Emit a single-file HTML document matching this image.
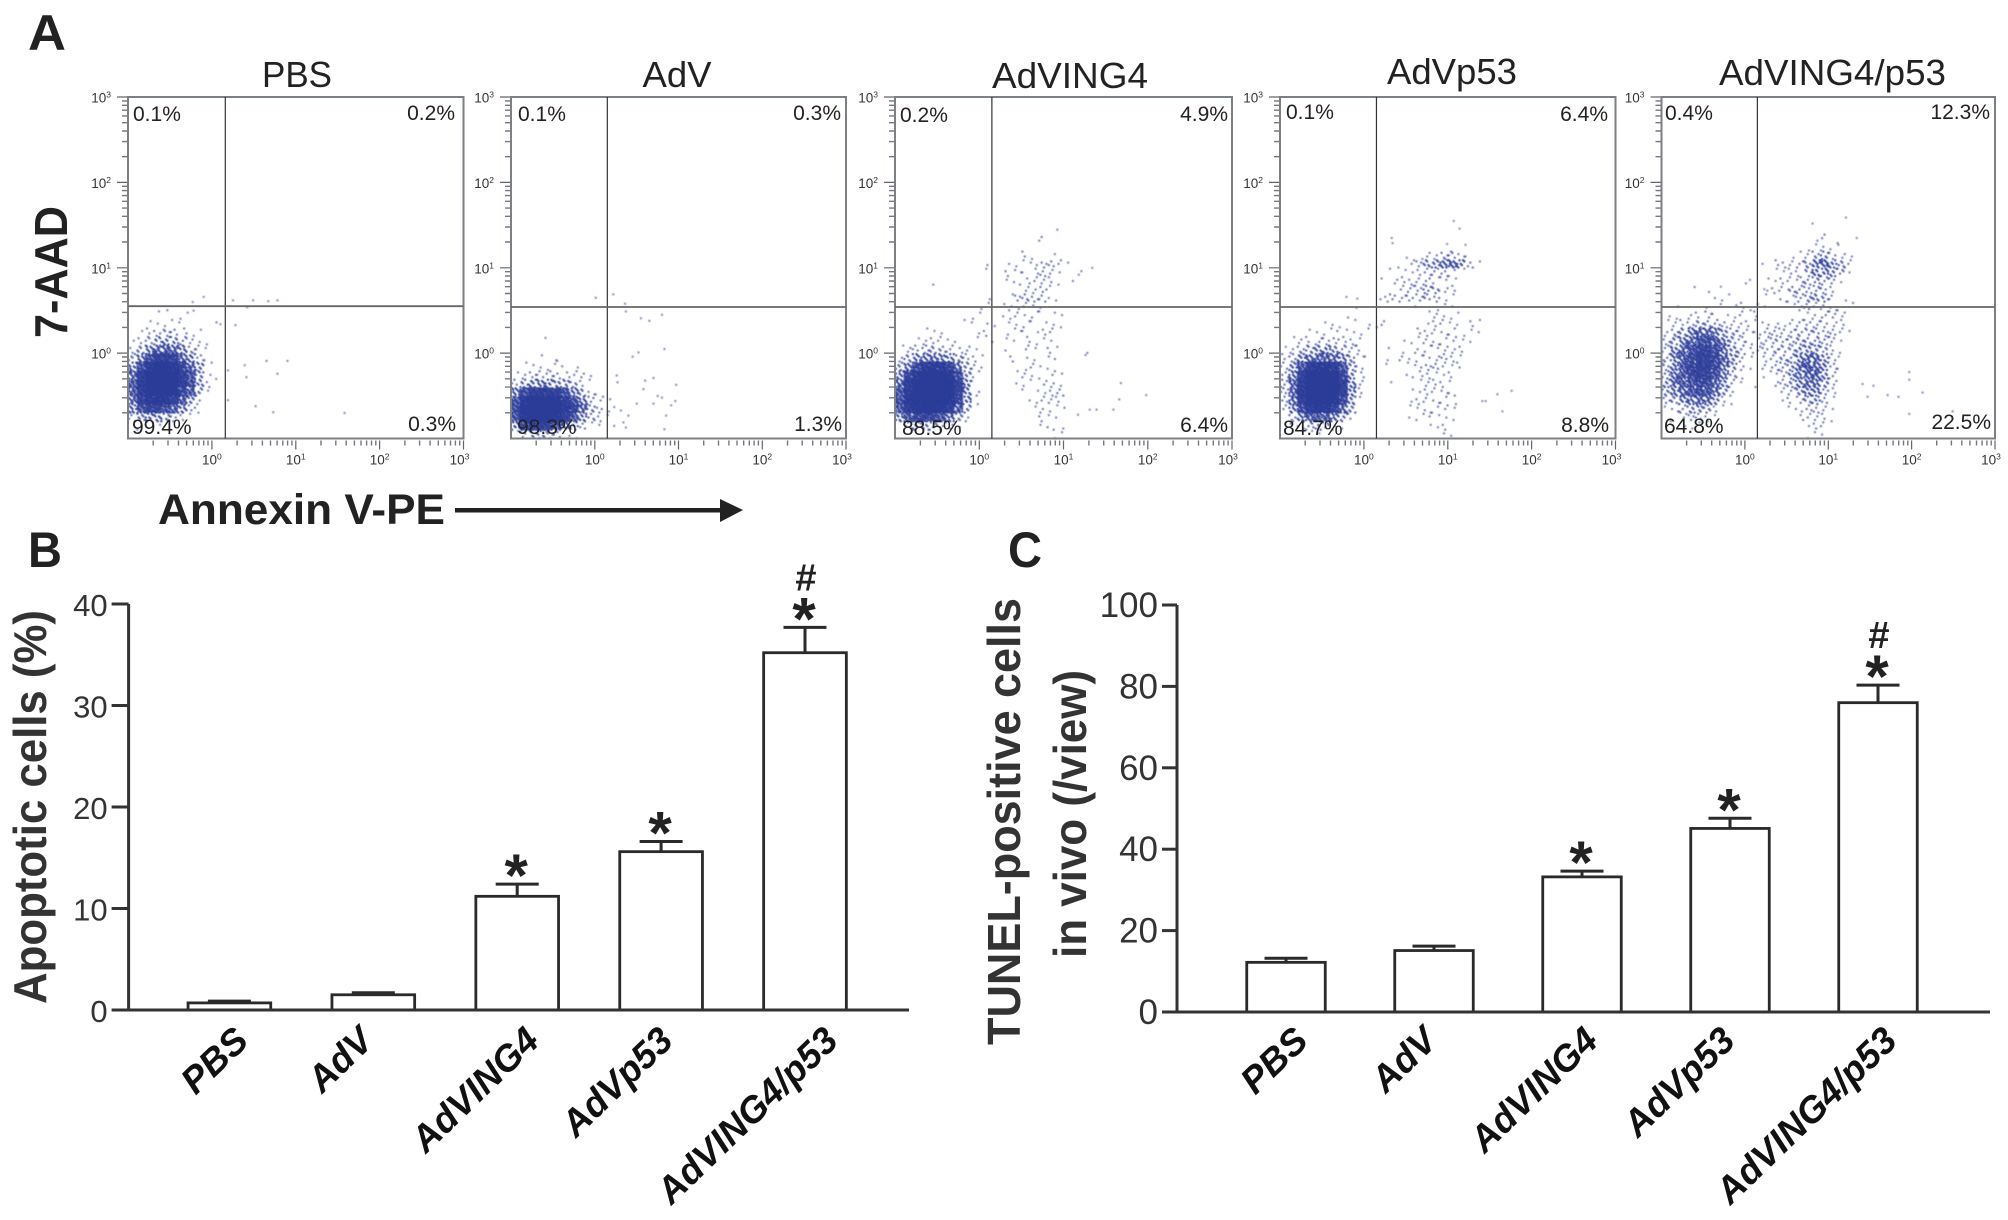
<!DOCTYPE html>
<html lang="en">
<head>
<meta charset="utf-8">
<title>Apoptosis flow cytometry and bar charts</title>
<style>
html,body{margin:0;padding:0;background:#fff;}
svg{display:block;font-family:"Liberation Sans",sans-serif;}
</style>
</head>
<body>
<svg id="figure" xmlns="http://www.w3.org/2000/svg" width="2008" height="1220" viewBox="0 0 2008 1220">
  <defs>
    <filter id="soft" x="-5%" y="-5%" width="110%" height="110%"><feGaussianBlur stdDeviation="0.55"/></filter>
  </defs>
  <rect x="0" y="0" width="2008" height="1220" fill="#fff"/>
  <text x="28" y="50" font-size="50" font-weight="bold" fill="#222" textLength="38" lengthAdjust="spacingAndGlyphs">A</text>
  <text x="28" y="567" font-size="50" font-weight="bold" fill="#222" textLength="34" lengthAdjust="spacingAndGlyphs">B</text>
  <text x="1008" y="567" font-size="50" font-weight="bold" fill="#222" textLength="34" lengthAdjust="spacingAndGlyphs">C</text>
  <text transform="translate(67,338) rotate(-90)" font-size="46" font-weight="bold" fill="#222" textLength="132" lengthAdjust="spacingAndGlyphs">7-AAD</text>
  <text x="158" y="524" font-size="43" font-weight="bold" fill="#222" textLength="287" lengthAdjust="spacingAndGlyphs">Annexin V-PE</text>
  <g>
    <rect x="455" y="508" width="270" height="4.5" fill="#222"/>
    <polygon points="720,499 743,510 720,522" fill="#222"/>
  </g>
  <text transform="translate(46,1004) rotate(-90)" font-size="46" font-weight="bold" fill="#333" textLength="394" lengthAdjust="spacingAndGlyphs">Apoptotic cells (%)</text>
  <text transform="translate(1020,1045) rotate(-90)" font-size="46" font-weight="bold" fill="#333" textLength="447" lengthAdjust="spacingAndGlyphs">TUNEL-positive cells</text>
  <text transform="translate(1086,958) rotate(-90)" font-size="46" font-weight="bold" fill="#333" textLength="288" lengthAdjust="spacingAndGlyphs">in vivo (/view)</text>
</svg>
<script>
// ---------- Data: bar charts ----------
var categories = ['PBS', 'AdV', 'AdVING4', 'AdVp53', 'AdVING4/p53'];
var apoptoticValues = [0.7, 1.5, 11.2, 15.6, 35.2];
var apoptoticErrors = [0.17, 0.2, 1.2, 1.0, 2.5];
var apoptoticTicks = [0, 10, 20, 30, 40];
var apoptoticMarks = ['', '', '*', '*', '*#'];
var tunelValues = [12.2, 15.1, 33.2, 45.1, 76];
var tunelErrors = [1.0, 1.1, 1.4, 2.5, 4.3];
var tunelTicks = [0, 20, 40, 60, 80, 100];
var tunelMarks = ['', '', '*', '*', '*#'];

// ---------- Data: flow cytometry ----------
var decadeTicks = [0, 1, 2, 3];
var quadrantLabels = [
  ['0.1%', '0.2%', '99.4%', '0.3%'],
  ['0.1%', '0.3%', '98.3%', '1.3%'],
  ['0.2%', '4.9%', '88.5%', '6.4%'],
  ['0.1%', '6.4%', '84.7%', '8.8%'],
  ['0.4%', '12.3%', '64.8%', '22.5%']
];
var gateX = [0.16, 0.15, 0.15, 0.15, 0.15];
var gateY = [0.55, 0.54, 0.54, 0.54, 0.54];

// Event counts in 0.1-decade bins. Rows run upward from log y = -1, columns rightward from log x = -1.
var densityPBS = [
  [],
  [0,1,1,1],
  [3,6,8,8,5,3,2,1],
  [9,20,28,28,22,16,8,3,1],
  [12,30,44,46,42,32,16,6,2],
  [16,36,49,49,49,46,26,16,5,1],
  [18,38,49,49,49,49,36,20,6,2],
  [14,34,49,49,49,49,34,20,6,1],
  [8,22,42,49,49,44,26,14,7,1],
  [4,10,22,32,34,28,14,8,3,1],
  [2,5,9,14,16,13,8,4,2,1],
  [1,2,4,6,7,6,4,2,1,1],
  [0,1,2,3,4,3,2,1,1],
  [0,0,1,1,1,1,1,0,0,0,1],
  [0,0,0,1,0,0,1,1],
  [0,0,0,0,1]
];
var densityAdV = [
  [1,3,5,6,4,3,1,1],
  [8,24,34,36,30,20,12,6,3,1,1],
  [20,46,49,49,49,46,32,18,8,4,2,1],
  [24,49,49,49,49,49,42,28,14,5,3,1],
  [20,44,49,49,49,47,36,20,10,4,2,1],
  [10,22,34,38,36,30,20,10,5,2,1],
  [3,6,8,9,8,7,6,4,2,1],
  [1,2,3,3,3,3,2,2,2,1],
  [0,1,1,1,1,1,1,1],
  [0,0,0,1,0,1]
];
var densityAdVING4 = [
  [0,0,0,0,0,0,0,0,0,0,0,0,0,0,0,0,0,0,1,1],
  [0,3,5,6,5,3,2,1,0,0,0,0,0,0,0,0,0,1,2,1],
  [8,18,26,28,26,20,12,5,2,0,0,0,0,0,0,0,0,2,1,1],
  [18,36,46,49,49,46,34,16,5,0,0,0,0,0,0,0,1,2,1,1,1],
  [22,44,49,49,49,49,46,26,8,1,0,0,0,0,0,1,1,2,2,2],
  [20,42,49,49,49,49,49,30,8,2,0,0,0,0,0,1,1,1,2,3],
  [14,38,49,49,49,49,49,30,8,1,0,0,0,0,1,1,1,2,2,1],
  [8,26,44,49,49,49,44,22,6,2,0,0,0,0,1,2,1,1,2,1],
  [5,10,24,38,42,40,28,12,5,2,1,0,0,0,0,1,2,1,1],
  [2,5,8,10,12,10,8,5,3,2,1,0,0,2,0,1,1,0,2],
  [1,2,3,4,5,4,3,2,2,1,0,0,0,1,0,2,1,0,2,1,0,0,1],
  [0,0,1,2,2,2,1,1,0,1,0,1,0,1,1,2,1,1,1],
  [0,0,0,1,1,1,0,0,0,1,2,0,0,1,2,1,1,2,2],
  [0,0,0,0,0,0,0,0,1,1,1,1,0,1,1,2,1,1,1,1],
  [0,0,0,0,0,0,0,0,0,1,1,0,1,1,2,1,2,1,1,1],
  [0,0,0,0,0,0,0,0,0,0,1,1,1,2,1,2,1,1],
  [0,0,0,0,0,0,0,0,0,0,0,1,0,1,3,4,3,3,1,1],
  [0,0,0,0,0,0,0,0,0,0,0,0,0,0,0,2,2,3,1],
  [0,0,0,0,1,0,0,0,0,0,0,0,0,1,2,2,2,2,2,1,0,1],
  [0,0,0,0,0,0,0,0,0,0,1,0,0,2,2,1,2,3,2,1,0,0,1],
  [0,0,0,0,0,0,0,0,0,0,1,0,0,1,1,1,2,3,3,2,1],
  [0,0,0,0,0,0,0,0,0,0,0,0,0,0,0,2,1,0,1],
  [],
  [0,0,0,0,0,0,0,0,0,0,0,0,0,0,0,0,0,2],
  [0,0,0,0,0,0,0,0,0,0,0,0,0,0,0,0,0,0,0,1]
];
var densityAdVp53 = [
  [0,0,0,1,1,0,0,0,0,0,0,0,0,0,0,0,0,0,0,1,1],
  [0,1,2,5,5,4,2,1,0,0,0,0,0,0,0,0,0,1,1,2],
  [0,4,10,16,18,16,10,5,2,0,0,0,0,0,0,1,1,2,1,1,1],
  [2,8,22,40,46,44,28,14,5,0,0,0,0,0,0,1,1,2,2,2,1],
  [3,12,34,49,49,49,46,24,7,1,0,0,0,0,0,1,2,2,2,2,1],
  [4,14,40,49,49,49,49,34,8,2,0,0,0,0,0,1,1,2,2,2,2],
  [4,14,38,49,49,49,49,34,8,2,0,0,0,1,0,0,1,2,2,2,1],
  [3,10,30,49,49,49,49,26,7,2,0,0,0,0,0,2,2,2,1,1,2],
  [3,7,18,36,44,44,36,18,6,2,0,0,1,0,0,1,2,3,3,2,1,2],
  [2,4,8,12,15,15,12,8,5,2,1,0,1,0,2,1,2,2,2,3,2,1],
  [1,2,4,6,7,8,6,4,3,2,0,0,1,0,1,0,2,2,2,2,2,2],
  [0,1,2,2,3,3,3,2,2,1,0,0,0,0,1,1,1,2,2,2,2,1,1],
  [0,0,0,1,1,1,2,1,1,1,1,0,0,0,0,0,2,2,2,2,2,1,1,1],
  [0,0,0,0,0,1,1,1,1,0,1,1,2,0,0,0,0,1,2,2,1,1,2,1],
  [0,0,0,0,0,0,0,0,1,0,0,0,0,0,0,0,0,1,2,1,1,1],
  [0,0,0,0,0,0,0,0,0,1,0,0,0,0,0,0,1,0,1,1,1],
  [0,0,0,0,0,0,0,0,0,0,0,1,2,3,3,3,3,4,3,1,1],
  [0,0,0,0,0,0,0,0,0,0,0,0,0,0,2,3,3,5,5,2,2],
  [0,0,0,0,0,0,0,0,0,0,0,0,1,2,2,2,2,3,2,2,1],
  [0,0,0,0,0,0,0,0,0,0,0,0,0,1,1,1,2,3,3,3,2,1],
  [0,0,0,0,0,0,0,0,0,0,0,0,0,0,1,2,3,6,7,10,12,8,3,1],
  [0,0,0,0,0,0,0,0,0,0,0,0,0,0,0,1,1,2,2,4,4,2,1]
];
var densityAdVING4p53 = [
  [0,0,0,0,0,0,0,0,0,0,0,0,0,0,0,0,0,1,1,1],
  [0,0,1,1,1,1,0,0,0,0,0,0,0,0,0,0,0,1,2,2],
  [0,1,2,3,3,2,1,0,0,0,0,0,0,0,0,0,2,2,2,2,1],
  [1,2,4,6,6,5,2,1,0,0,0,0,0,0,0,1,2,3,3,2,1],
  [3,5,8,11,14,12,6,2,1,0,0,0,0,0,1,2,3,5,6,3,1],
  [5,9,14,18,22,20,12,5,2,0,0,0,0,0,2,3,6,9,9,4,2],
  [6,12,16,20,24,22,14,7,3,1,0,1,0,2,3,5,8,12,12,6,2],
  [5,11,18,24,30,28,20,10,4,1,0,0,1,2,3,6,10,14,14,7,3],
  [4,10,18,26,32,32,24,12,6,2,1,0,2,3,4,6,12,16,14,8,3,1],
  [4,10,16,24,30,30,24,14,7,4,1,0,2,3,4,5,9,12,12,7,3,1],
  [3,8,14,20,26,28,22,12,6,4,2,2,3,4,4,4,6,7,6,4,2,1],
  [3,6,10,14,20,22,16,9,5,3,2,2,3,4,3,4,5,5,5,4,3,1],
  [2,4,6,10,14,14,10,6,4,3,2,2,3,3,3,3,4,4,4,3,3,2,1],
  [1,2,2,3,5,5,4,3,2,2,2,1,2,2,1,2,3,3,3,3,2,2],
  [1,1,0,2,2,3,1,1,1,2,0,2,0,0,0,0,0,1,2,3,3,2],
  [0,1,0,0,0,1,0,1,1,2,1,1,1,0,0,1,2,3,2,2,2,1,1],
  [0,0,0,0,0,0,1,1,1,0,0,0,1,0,2,2,4,5,6,5,2,0,1],
  [0,0,0,1,0,1,0,0,0,0,0,0,1,2,2,4,4,4,4,3,2],
  [0,0,0,0,0,0,0,0,0,0,1,0,1,1,2,2,3,4,5,4,3,1],
  [0,0,0,0,0,0,0,0,0,0,0,0,0,1,1,2,2,4,8,8,6,4,1],
  [0,0,0,0,0,0,0,0,0,0,0,0,1,2,2,2,3,5,10,12,7,5,2],
  [0,0,0,0,0,0,0,0,0,0,0,0,0,0,0,1,1,2,4,6,3,2,1],
  [0,0,0,0,0,0,0,0,0,0,0,0,0,0,0,0,0,1,1,2,1,1],
  [0,0,0,0,0,0,0,0,0,0,0,0,0,0,0,0,0,0,1,2]
];
var densityGrids = [densityPBS, densityAdV, densityAdVING4, densityAdVp53, densityAdVING4p53];

// Isolated events as [log x, log y].
var outliersPBS = [[-.11,.67],[-.24,.61],[-.23,.51],[.24,.63],[.48,.63],[.66,.62],[.77,.63],[.41,.55],[.27,.34],[.09,.35],[.18,-.19],[.38,-.13],[.64,-.08],[.89,-.08],[.77,-.23],[.40,-.27],[.18,-.54],[.51,-.61],[.72,-.68],[1.57,-.69],[.04,-.29]];
var outliersAdV = [[0,.66],[.21,.70],[.35,.59],[.36,.50],[.54,.42],[.64,.39],[.79,.46],[-.60,.19],[-.46,-.08],[.44,-.03],[.51,.02],[.82,.06],[.25,-.25],[.26,-.33],[.59,-.31],[.57,-.41],[.69,-.28],[.96,-.36],[.74,-.49],[.79,-.51],[.69,-.58],[.95,-.55],[.90,-.60],[.84,-.72],[.49,-.58],[.30,-.66],[.22,-.62],[.39,-.72],[.33,-.80],[.22,-.84],[.36,-.86],[.82,-.88]];
var outliersAdVING4 = [[1.67,-.34],[1.65,-.53],[1.97,-.48],[1.58,-.65],[1.30,-.65],[1.38,-.65],[1.16,-.71],[1.25,-.01],[1.17,.93],[1.33,1.01]];
var outliersAdVp53 = [[1.06,1.56],[1.13,1.47],[.32,1.36],[.33,1.30],[.98,1.29],[1.20,1.28],[-.09,.65],[-.22,.67],[1.58,-.47],[1.75,-.43],[1.40,-.55],[1.44,-.55],[1.64,-.67]];
var outliersAdVING4p53 = [[1.96,-.21],[1.96,-.30],[1.53,-.37],[1.70,-.48],[2.12,-.45],[1.83,-.50],[1.96,-.70],[2.48,-.67],[1.40,-.35],[1.46,-.50],[-.30,.79],[.05,.87],[.22,.76],[.80,1.53],[1.20,1.60],[1.33,1.36],[1.11,1.28]];
var outlierSets = [outliersPBS, outliersAdV, outliersAdVING4, outliersAdVp53, outliersAdVING4p53];

// ---------- Layout (pixels, not data) ----------
var svg = document.getElementById('figure');
var NS = 'http://www.w3.org/2000/svg';
var panelLeft = [128, 511, 895, 1280, 1661.5];
var panelRight = [463.5, 846, 1232, 1615.5, 1995];
var panelTop = 97, panelBottom = 438.5;
var titleLayout = [[297, 87, 70], [677, 87, 69], [1070, 88, 156], [1452, 84, 130], [1832.5, 85, 227]];
var quadLayout = [
  [[133,121],[455,120],[132,434],[456,431]],
  [[518,121],[841,120],[517,434],[842,431]],
  [[900,122],[1228,121],[902,435],[1228,432]],
  [[1286,119],[1608,121],[1283,435],[1609,432]],
  [[1665,120],[1990,119],[1664,433],[1991,429]]
];
var barLabelShiftB = [21, 2, 24, 14, 35];
var barLabelShiftC = [24, 5, 18, 7, 21];

function mk(parent, tag, attrs, text) {
  var e = document.createElementNS(NS, tag);
  for (var k in attrs) { e.setAttribute(k, attrs[k]); }
  if (text !== undefined) { e.textContent = text; }
  parent.appendChild(e);
  return e;
}

function drawDecadeLabel(g, x, y, anchor, exponent) {
  var t = mk(g, 'text', {x: x, y: y, 'font-size': 13.5, 'text-anchor': anchor, fill: '#333'}, '10');
  
  
  mk(t, 'tspan', {dy: -5, 'font-size': 8.5}, String(exponent));
}

function drawFlowPanel(i) {
  var L = panelLeft[i], R = panelRight[i], T = panelTop, B = panelBottom;
  function xScale(v) { return L + (v + 1) * (R - L) / 4; }
  function yScale(v) { return B - (v + 1) * (B - T) / 4; }

  var g = mk(svg, 'g', {});
  
  

  var title = mk(g, 'text', {x: titleLayout[i][0], y: titleLayout[i][1], 'font-size': 36, 'text-anchor': 'middle', fill: '#222', textLength: titleLayout[i][2], lengthAdjust: 'spacingAndGlyphs'}, categories[i]);
  
  

  // density bins drawn as stippled events
  var dots = mk(g, 'g', {filter: 'url(#soft)'});
  
  
  var grid = densityGrids[i];
  for (var row = 0; row < grid.length; row++) {
    for (var col = 0; col < grid[row].length; col++) {
      var count = Math.min(grid[row][col], 49);
      if (!count) { continue; }
      var x0 = xScale(-1 + col * 0.1), y1 = yScale(-1 + row * 0.1);
      var cw = xScale(-0.9) - xScale(-1), ch = yScale(-1) - yScale(-0.9);
      var seed = (col * 13 + row * 29 + i * 5) % 49;
      var d = '';
      for (var k = 0; k < count; k++) {
        var s = (seed + k * 19) % 49;
        var px = x0 + (s % 7) * cw / 7;
        var py = y1 - ch + Math.floor(s / 7) * ch / 7;
        d += 'M' + px.toFixed(2) + ' ' + py.toFixed(2) + 'h2v2h-2z';
      }
      var cell = mk(dots, 'path', {d: d, fill: '#2a3a98', 'fill-opacity': Math.min(1, 0.6 + count / 20).toFixed(2)});
      
      
    }
  }
  var outliers = outlierSets[i];
  for (var o = 0; o < outliers.length; o++) {
    var pt = mk(dots, 'rect', {x: xScale(outliers[o][0]), y: yScale(outliers[o][1]), width: 2, height: 2, fill: '#2a3a98', 'fill-opacity': 0.6});
    
    
  }

  // frame and gates
  var frame = mk(g, 'rect', {x: L, y: T, width: R - L, height: B - T, fill: 'none', stroke: '#7b7f86', 'stroke-width': 2});
  
  
  var vg = mk(g, 'line', {x1: xScale(gateX[i]), x2: xScale(gateX[i]), y1: T, y2: B, stroke: '#333', 'stroke-width': 1.2});
  
  
  var hg = mk(g, 'line', {x1: L, x2: R, y1: yScale(gateY[i]), y2: yScale(gateY[i]), stroke: '#666', 'stroke-width': 1.8});
  
  

  // ticks
  var tickPath = '';
  for (var dec = -1; dec < 3; dec++) {
    for (var m = 2; m <= 9; m++) {
      var v = dec + Math.log10(m);
      tickPath += 'M' + xScale(v).toFixed(1) + ' ' + (B + 2) + 'v5';
      tickPath += 'M' + (L - 6) + ' ' + yScale(v).toFixed(1) + 'h5';
    }
  }
  var minor = mk(g, 'path', {d: tickPath, stroke: '#777', 'stroke-width': 1.4, fill: 'none'});
  
  
  for (var t = 0; t < decadeTicks.length; t++) {
    var dv = decadeTicks[t];
    var maj = mk(g, 'path', {d: 'M' + xScale(dv).toFixed(1) + ' ' + (B + 2) + 'v9M' + (L - 11) + ' ' + yScale(dv).toFixed(1) + 'h10', stroke: '#666', 'stroke-width': 1.2, fill: 'none'});
    
    
    drawDecadeLabel(g, xScale(dv) - (dv === 3 ? 4 : 0), B + 26, 'middle', dv);
    drawDecadeLabel(g, L - 17, yScale(dv) + 5.5, 'end', dv);
  }

  // quadrant percentages
  var anchors = ['start', 'end', 'start', 'end'];
  for (var q = 0; q < 4; q++) {
    var lab = mk(g, 'text', {x: quadLayout[i][q][0], y: quadLayout[i][q][1], 'font-size': 21, 'text-anchor': anchors[q], fill: '#222'}, quadrantLabels[i][q]);
    
    
  }
}

function drawBarChart(name, cfg, values, errors, ticks, marks, shifts) {
  function yScale(v) { return cfg.y0 - (v - 0) * (cfg.y0 - cfg.yTop) / cfg.yMax; }
  function xCenter(i) { return cfg.x0 + i * cfg.step; }

  var g = mk(svg, 'g', {});
  
  

  for (var i = 0; i < values.length; i++) {
    var cx = xCenter(i), top = yScale(values[i]), errTop = yScale(values[i] + errors[i]);
    var err = mk(g, 'path', {d: 'M' + cx + ' ' + top + 'V' + errTop + 'M' + (cx - cfg.cap / 2) + ' ' + errTop + 'H' + (cx + cfg.cap / 2), stroke: '#2a2a2a', 'stroke-width': 3, fill: 'none'});
    
    
    var bar = mk(g, 'rect', {x: cx - cfg.barW / 2, y: top, width: cfg.barW, height: cfg.y0 - top, fill: '#fff', stroke: '#2a2a2a', 'stroke-width': 2.8});
    
    
    if (marks[i].indexOf('*') >= 0) {
      var star = mk(g, 'text', {x: cx - 1, y: errTop - 24 + 36, 'font-size': 60, 'font-weight': 'bold', 'text-anchor': 'middle', fill: '#222'}, '*');
      
      
    }
    if (marks[i].indexOf('#') >= 0) {
      var hash = mk(g, 'text', {x: cx + 1, y: errTop - 37, 'font-size': 38, 'font-weight': 'bold', 'text-anchor': 'middle', fill: '#222'}, '#');
      
      
    }
    var lx = cx + shifts[i];
    var cat = mk(g, 'text', {transform: 'translate(' + lx + ',1043) rotate(-44)', 'font-size': 37, 'font-weight': 'bold', 'font-style': 'italic', 'text-anchor': 'end', fill: '#111'}, categories[i]);
    
    
  }

  var axis = mk(g, 'path', {d: 'M' + cfg.axisX + ' ' + cfg.yTop + 'V' + cfg.y0 + 'M' + cfg.axisX + ' ' + cfg.y0 + 'H' + cfg.xEnd, stroke: '#333', 'stroke-width': 3, fill: 'none'});
  
  
  for (var t = 0; t < ticks.length; t++) {
    var ty = yScale(ticks[t]);
    var tk = mk(g, 'line', {x1: cfg.axisX - cfg.tick, x2: cfg.axisX, y1: ty, y2: ty, stroke: '#333', 'stroke-width': 3});
    
    
    var tl = mk(g, 'text', {x: cfg.axisX - cfg.tick - 4, y: ty + 12, 'font-size': cfg.font, 'text-anchor': 'end', fill: '#333'}, String(ticks[t]));
    
    
  }
}

for (var p = 0; p < 5; p++) { drawFlowPanel(p); }
drawBarChart('apoptotic-cells-chart',
  {x0: 229.4, step: 143.9, barW: 82.7, cap: 43, y0: 1010, yTop: 604, yMax: 40, axisX: 128.6, xEnd: 909, tick: 17, font: 31},
  apoptoticValues, apoptoticErrors, apoptoticTicks, apoptoticMarks, barLabelShiftB);
drawBarChart('tunel-positive-chart',
  {x0: 1286, step: 148, barW: 78.5, cap: 43, y0: 1012, yTop: 605, yMax: 100, axisX: 1177, xEnd: 1990, tick: 15, font: 35},
  tunelValues, tunelErrors, tunelTicks, tunelMarks, barLabelShiftC);
</script>
</body>
</html>
